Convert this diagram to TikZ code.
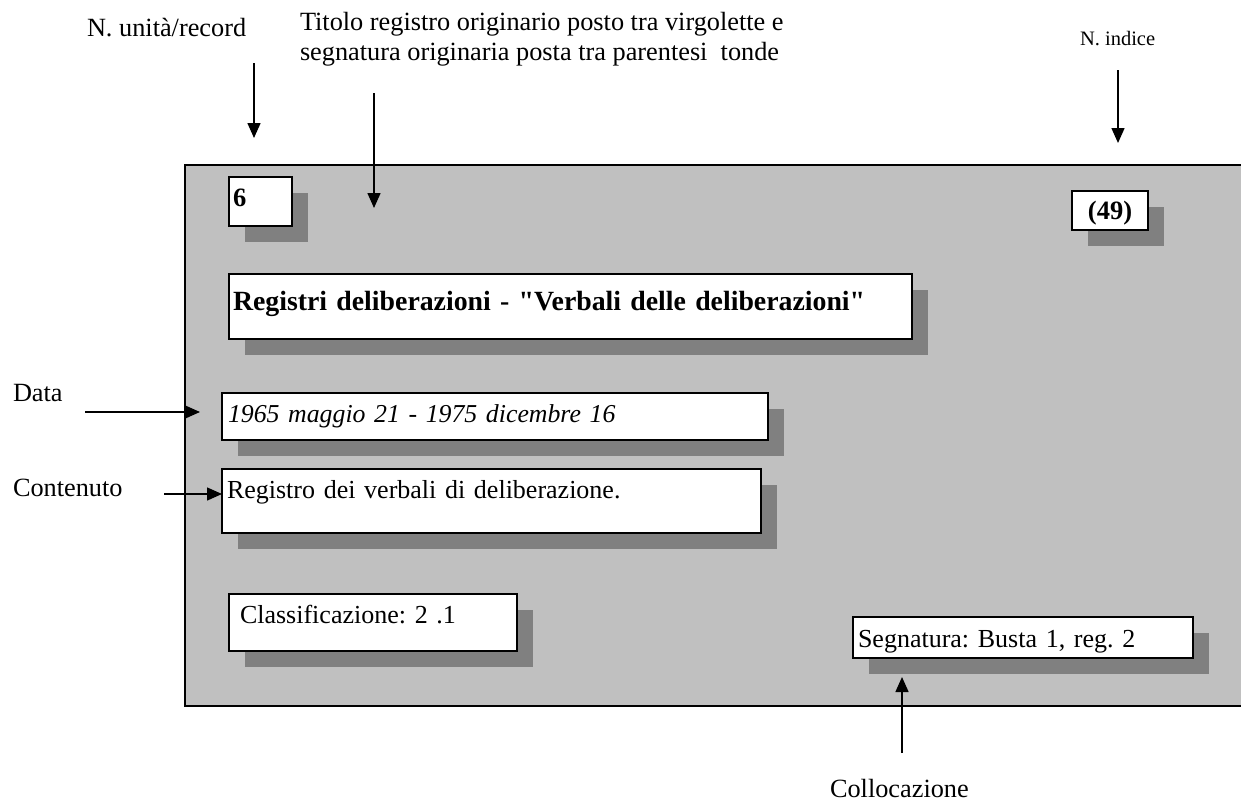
\documentclass[tikz,border=0pt]{standalone}
\usepackage{fontspec}
\setmainfont{Liberation Serif}[Ligatures=TeXOff]
\usetikzlibrary{arrows.meta,shadows}
\AtBeginDocument{\frenchspacing}
\definecolor{panel}{HTML}{C0C0C0}
\definecolor{shade}{HTML}{808080}
\tikzset{
  lbl/.style={anchor=base west, inner sep=0pt, outer sep=0pt, font=\fontsize{26.3}{31}\selectfont},
  card/.style={draw=black, line width=2pt, fill=white, anchor=north west,
    inner ysep=0pt, outer sep=0pt, align=left,
    font=\fontsize{26}{31}\selectfont,
    general shadow={fill=shade, shadow xshift=15.5pt, shadow yshift=-15.5pt}},
  pointer/.style={line width=1.5pt, -{Triangle[length=15pt,width=13pt]}},
}
\begin{document}
\begin{tikzpicture}[x=1pt,y=-1pt]
\useasboundingbox (0,0) rectangle (1241,803);
% panel
\fill[panel] (185,165) rectangle (1241,706);
\draw[line width=2pt] (1241,165) -- (185,165) -- (185,706) -- (1241,706);

% cards
\node[card, inner xsep=4pt, text width=55pt, text height=29pt, text depth=20pt, font=\fontsize{26.5}{31}\selectfont\bfseries] (bnum) at (229,177) {6};
\node[card, inner xsep=4pt, text width=68pt, text height=28pt, text depth=11pt, align=center, font=\fontsize{26.5}{31}\selectfont\bfseries] (bidx) at (1072,191) {(49)};
\node[card, inner xsep=4pt, text width=675pt, text height=36pt, text depth=29pt, font=\fontsize{27.8}{31}\selectfont\bfseries] (btitle) at (229,274) {Registri deliberazioni - "Verbali delle deliberazioni"};
\node[card, inner xsep=6pt, text width=534pt, text height=29pt, text depth=18pt, font=\fontsize{25.8}{31}\selectfont\itshape] (bdate) at (222,393) {1965 maggio 21 - 1975 dicembre 16};
\node[card, inner xsep=5pt, text width=529pt, text height=29pt, text depth=35pt] (bcont) at (222,469) {Registro dei verbali di deliberazione.};
\node[card, inner xsep=11pt, text width=266pt, text height=29pt, text depth=28pt] (bclass) at (229,594) {Classificazione: 2 .1};
\node[card, inner xsep=5pt, text width=330pt, text height=30pt, text depth=11pt] (bsegn) at (853,617) {Segnatura: Busta 1, reg. 2};

% outside labels
\node[lbl] (lunit) at (87,36) {N. unità/record};
\node[lbl] (ltit1) at (300,30) {Titolo registro originario posto tra virgolette e};
\node[lbl] (ltit2) at (300,60) {segnatura originaria posta tra parentesi\ \ tonde};
\node[lbl, font=\fontsize{20.5}{24}\selectfont] (lidx) at (1080,45) {N. indice};
\node[lbl] (ldata) at (13,401) {Data};
\node[lbl] (lcont) at (13,496) {Contenuto};
\node[lbl] (lcoll) at (830,797) {Collocazione};

% arrow ends
\coordinate (u1) at (254,63);  \coordinate (u2) at (254,138);
\coordinate (t1) at (374,93);  \coordinate (t2) at (374,208);
\coordinate (i1) at (1118,70); \coordinate (i2) at (1118,143);
\coordinate (d1) at (85,412);  \coordinate (d2) at (200,412);
\coordinate (c1) at (164,494); \coordinate (c2) at (bcont.west |- c1);
\coordinate (k1) at (902,753); \coordinate (k2) at (902,677);

\draw[pointer] (u1) -- (u2);
\draw[pointer] (t1) -- (t2);
\draw[pointer] (i1) -- (i2);
\draw[pointer] (d1) -- (d2);
\draw[pointer] (c1) -- (c2);
\draw[pointer] (k1) -- (k2);
\end{tikzpicture}
\end{document}
